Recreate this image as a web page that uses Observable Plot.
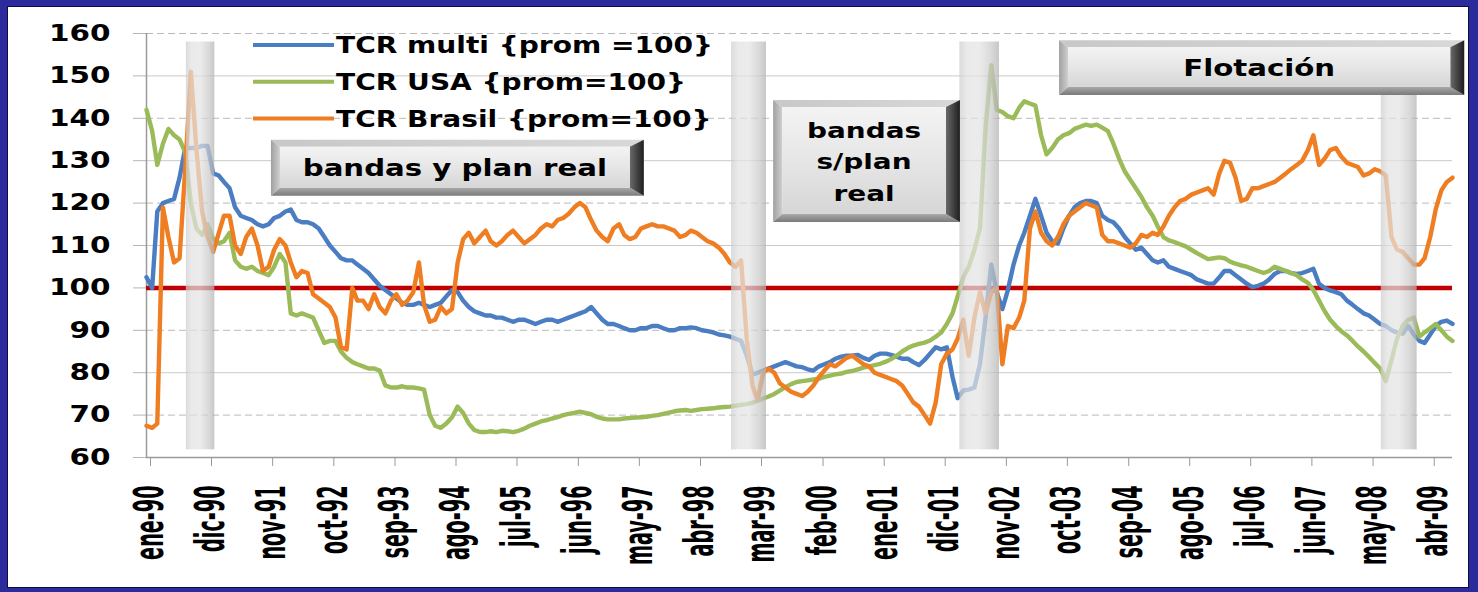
<!DOCTYPE html>
<html><head><meta charset="utf-8">
<script src="https://cdn.jsdelivr.net/npm/d3@7"></script>
<script src="https://cdn.jsdelivr.net/npm/@observablehq/plot@0.6"></script>
<style>
html,body{margin:0;padding:0;background:#2b2b9d;width:1478px;height:592px;overflow:hidden;}
#frame{position:absolute;left:8px;top:7px;width:1460px;height:580px;background:#fff;box-shadow:0 0 0 1px #0d0d40;}
svg text{font-family:"DejaVu Sans",sans-serif;}
</style></head><body><div id="frame"></div>
<script>
// ---------- data ----------
const monthNames = ["ene","feb","mar","abr","may","jun","jul","ago","sep","oct","nov","dic"];
const startYear = 1990; // first month: ene-90, monthly series
const tickLabels = ["ene-90","dic-90","nov-91","oct-92","sep-93","ago-94","jul-95","jun-96","may-97","abr-98","mar-99","feb-00","ene-01","dic-01","nov-02","oct-03","sep-04","ago-05","jul-06","jun-07","may-08","abr-09"];
const yTicks = [60,70,80,90,100,110,120,130,140,150,160];
const seriesNames = ["TCR multi {prom =100}","TCR USA {prom=100}","TCR Brasil {prom=100}"];
const tcrMulti = [
102.5,100,118,120,120.5,121,126,133,133,133,
133.5,133.5,127,126.5,125,123.5,119,117,116.5,116,
115,114.5,115,116.5,117,118,118.5,116,115.5,115.5,
115,114,112,110,108.5,107,106.5,106.5,105.5,104.5,
103.5,102,100.5,99.5,98.5,97.5,96.5,96,96,96.5,
96,95.5,96,96.5,98,99.5,99,97,95.5,94.5,
94,93.5,93.5,93,93,92.5,92,92.5,92.5,92,
91.5,92,92.5,92.5,92,92.5,93,93.5,94,94.5,
95.5,94,92.5,91.5,91.5,91,90.5,90,90,90.5,
90.5,91,91,90.5,90,90,90.5,90.5,90.7,90.5,
90,89.8,89.5,89,88.8,88.5,88,87.5,84,79.5,
80,80.5,81,81.5,82,82.5,82,81.5,81.3,80.8,
80.5,81.5,82,82.5,83.3,83.8,84,84,84.2,83.5,
83,84,84.5,84.5,84.2,83.8,83.3,83.3,82.5,81.8,
83,84.5,86,85.5,86,79,74,75.8,76,76.5,
82,93,105.5,99,95,99.5,105.5,110,113,117,
121,117,113,111,110.5,114,117,119,120,120.5,
120.5,120,117,116,115.5,114,112,110.5,109,109.5,
108,106.5,106,106.5,105,104.5,104,103.5,103,102,
101.5,101,101,102.5,104,104,103,102,101,100.2,
100.5,101,102,103.3,104,104,103.5,103.3,103.5,104,
104.5,101,100,99.4,99,98.5,97,96,95,94,
93.5,92.5,91.5,91,90,89.5,89.2,91,89,87.5,
87,89,91,92,92.3,91.5];
const tcrUSA = [
142,137,129,134,137.5,136,135,132,120,114,
112.5,115,111.5,110.5,111,113,106.5,105,104.5,105,
104,103.5,103,105,108,106,94,93.5,94,93.5,
93,90,87,87.5,87.5,85,83.5,82.5,82,81.5,
81,81,80.5,77,76.5,76.5,76.8,76.5,76.5,76.3,
76,70,67.5,67,68,69.5,72,70.5,68,66.5,
66,66,66.2,66,66.3,66.2,66,66.3,66.8,67.5,
68,68.5,68.8,69.2,69.5,70,70.3,70.5,70.8,70.5,
70.2,69.6,69.2,69,69,69,69.2,69.3,69.4,69.5,
69.6,69.8,70,70.3,70.6,70.9,71.1,71.2,71,71.2,
71.4,71.5,71.6,71.8,71.9,72,72.2,72.4,72.6,72.9,
73.4,73.9,74.4,75,75.8,76.6,77.3,77.8,78,78.2,
78.4,78.6,79,79.3,79.6,79.8,80.2,80.4,80.8,81.2,
81.5,81.8,82.1,82.6,83.2,84,85,85.8,86.4,86.8,
87.1,87.6,88.5,89.5,91.5,94,98,102.5,105,109,
114,138,152.5,142,141.5,140.5,140,142.5,144,143.5,
143,136,131.5,133,135,136,136.5,137.5,138,138.5,
138.2,138.5,137.8,137,134,130.5,127.5,125.5,123.5,121.5,
119,117,114.5,112,111.2,110.8,110.3,109.8,109,108.2,
107.5,106.8,107,107.2,107,106.2,105.7,105.3,105,104.5,
104,103.5,104,105,104.5,104,103.5,103,102,101.2,
99.5,97,94.5,92.5,91,89.8,88.8,87.5,86.2,85,
83.7,82.3,81,78,83,88,91,92.5,93,88.5,
89.5,90.5,91.5,90,88.5,87.5];
const tcrBrasil = [
67.5,67,68,119,112,106,107,128,151,133,
118,112,108.5,113,117,117,110,108,112,114,
110,104,105,109,111.5,110,106,102.5,104,103.5,
98.5,97.5,96.5,95.5,93,86,85.5,100,97,97,
95,98.5,95.5,94,97,98.5,96,97,99,106,
96,92,92.5,95.5,94,95,106,111.5,113,110.5,
112,113.5,111,110,111,112.5,113.5,112,110.5,111.5,
112.5,114,115,114.5,116,116.5,117.5,119,120,119,
116,113.5,112,111,114,115,112.5,111.5,112,114,
114.5,115,114.5,114.5,114,113.5,112,112.5,113.5,113,
112,111,110.5,109.5,108,106,105,106.5,88,77,
73.5,80,81,80,77.5,76.5,75.5,75,74.5,75.5,
77,79,80.5,82,81.5,82.5,83.5,84,83,82,
81.5,80,79.5,79,78.5,78,77,75,73,72,
70,68,73,82,84.5,85.5,88,92.5,84,93,
99,94,99,100,82,91,90.5,93,97,114,
118,113,111,110,112,115,117,118,119,120,
119.5,119,112.5,111,111,110.5,110,109.5,110.5,112.5,
112,113,112.5,114.5,117,119,120.5,121,122,122.5,
123,123.5,122,127,130,129.5,126,120.5,121,123.5,
123.5,124,124.5,125,126,127,128,129,130,132.5,
136,129,130.5,132.5,133,131,129.5,129,128.5,126.5,
127,128,127.5,126.5,112,109,108.5,107,105.5,105.5,
107,112,118.5,123,125,126];
const seriesColors = ["#4a7dc2","#9bbb59","#ef7d21"];

// ---------- helpers ----------
const monthDate = i => {
  const f = Math.floor(i);
  return new Date(Date.UTC(startYear, f, 1) + (i - f) * 30.44 * 864e5);
};
const parseLabel = l => {
  const [m, yy] = l.split("-");
  const y = +yy < 50 ? 2000 + +yy : 1900 + +yy;
  return new Date(Date.UTC(y, monthNames.indexOf(m), 1));
};
const fmt = d => monthNames[d.getUTCMonth()] + "-" + String(d.getUTCFullYear() % 100).padStart(2, "0");
const tickDates = tickLabels.map(parseLabel);

const allSeries = [tcrMulti, tcrUSA, tcrBrasil];
const rows = [];
allSeries.forEach((vals, s) => vals.forEach((v, i) => rows.push({date: monthDate(i), value: v, series: seriesNames[s]})));

// shaded periods (month index from ene-90) and annotation boxes
const bands = [
  {from: 7.2, to: 12.3, top: 158, bottom: 61.8},
  {from: 105.3, to: 111.6, top: 158, bottom: 61.8},
  {from: 146.4, to: 153.5, top: 158, bottom: 61.8},
  {from: 222.2, to: 228.6, top: 145.6, bottom: 61.8}
].map(b => ({x1: monthDate(b.from), x2: monthDate(b.to), y1: b.bottom, y2: b.top}));

const boxes = [
  {from: 22.5, to: 89.6, top: 134.8, bottom: 121.6, lines: ["bandas y plan real"]},
  {from: 112.9, to: 146.5, top: 144.2, bottom: 115.4, lines: ["bandas", "s/plan", "real"]},
  {from: 164.3, to: 237.2, top: 158.3, bottom: 145.4, lines: ["Flotación"]}
];

const gridSolid = [80,110,130,150];
const gridDashed = [70,90,120,140,160];

const plot = Plot.plot({
  width: 1460, height: 580,
  marginLeft: 138, marginTop: 26, marginRight: 16, marginBottom: 130,
  style: {background: "white", fontFamily: "DejaVu Sans"},
  x: {type: "utc", domain: [monthDate(0), monthDate(235)]},
  y: {domain: [60, 160]},
  color: {domain: seriesNames, range: seriesColors},
  marks: [
    Plot.ruleY(gridSolid, {stroke: "#c9c9c9", strokeWidth: 1}),
    Plot.ruleY(gridDashed, {stroke: "#b9b9b9", strokeWidth: 1, strokeDasharray: "7,4"}),
    Plot.axisY({ticks: yTicks, tickSize: 13, tickPadding: 23, stroke: "#b5b5b5", fill: "#000",
      fontSize: 23, fontWeight: "bold", label: null}),
    Plot.axisX({ticks: tickDates, tickFormat: fmt, tickRotate: -90, tickSize: 9, tickPadding: 19,
      stroke: "#999", fill: "#000", fontSize: 40, fontWeight: "bold", label: null, dx: 4}),
    Plot.ruleX([monthDate(0)], {y1: 60, y2: 160, stroke: "#9a9a9a", strokeWidth: 1.5}),
    Plot.ruleY([60], {stroke: "#9a9a9a", strokeWidth: 1.5}),
    Plot.ruleY([100], {stroke: "#c00000", strokeWidth: 4.5}),
    Plot.lineY(rows, {x: "date", y: "value", z: "series", stroke: "series", strokeWidth: 4.4,
      strokeLinejoin: "round", strokeLinecap: "round"}),
    Plot.rect(bands, {x1: "x1", x2: "x2", y1: "y1", y2: "y2", fill: "url(#bandGrad)", fillOpacity: 0.72})
  ]
});

document.getElementById("frame").appendChild(plot);
const svg = d3.select(plot);
const sx = plot.scale("x"), sy = plot.scale("y");

// gradients
const defs = svg.insert("defs", ":first-child");
const grad = (id, vertical, stops) => {
  const g = defs.append("linearGradient").attr("id", id)
    .attr("x1", 0).attr("y1", 0).attr("x2", vertical ? 0 : 1).attr("y2", vertical ? 1 : 0);
  stops.forEach(([o, c]) => g.append("stop").attr("offset", o).attr("stop-color", c));
};
grad("bandGrad", false, [[0, "#cdcdcd"], [0.2, "#e2e2e2"], [0.5, "#e4e4e4"], [0.8, "#cbcbcb"], [1, "#b2b2b2"]]);
grad("faceGrad", true, [[0, "#f3f3f3"], [0.5, "#e6e6e6"], [1, "#d6d6d6"]]);
grad("topBev", false, [[0, "#c8c8c8"], [1, "#d8d8d8"]]);
grad("rightBev", false, [[0, "#6a6a6a"], [1, "#1e1e1e"]]);
grad("leftBev", false, [[0, "#a0a0a0"], [1, "#cfcfcf"]]);
grad("botBev", true, [[0, "#a8a8a8"], [1, "#7a7a7a"]]);

// annotation boxes (bevelled buttons)
const stretchEls = [];
const gBoxes = svg.append("g");
boxes.forEach(b => {
  const L = sx.apply(monthDate(b.from)), R = sx.apply(monthDate(b.to));
  const T = sy.apply(b.top), B = sy.apply(b.bottom);
  const bl = 9, bt = 7, br = 14, bb = 8;
  const g = gBoxes.append("g");
  const poly = (pts, fill) => g.append("polygon").attr("points", pts.map(p => p.join(",")).join(" ")).attr("fill", fill);
  poly([[L, T], [R, T], [R - br, T + bt], [L + bl, T + bt]], "url(#topBev)");
  poly([[L, T], [L + bl, T + bt], [L + bl, B - bb], [L, B]], "url(#leftBev)");
  poly([[L, B], [R, B], [R - br, B - bb], [L + bl, B - bb]], "url(#botBev)");
  poly([[R, T], [R, B], [R - br, B - bb], [R - br, T + bt]], "url(#rightBev)");
  g.append("rect").attr("x", L + bl).attr("y", T + bt).attr("width", R - br - L - bl).attr("height", B - bb - T - bt)
    .attr("fill", "url(#faceGrad)");
  const cx = (L + bl + R - br) / 2, cy = (T + bt + B - bb) / 2;
  const lh = 31.5;
  b.lines.forEach((t, k) => {
    const y = cy + (k - (b.lines.length - 1) / 2) * lh;
    const el = g.append("text").attr("x", cx).attr("y", y + 1).attr("text-anchor", "middle")
      .attr("dominant-baseline", "central").attr("font-size", b.lines.length > 1 ? 22 : 23)
      .attr("font-weight", "bold").attr("fill", "#000").text(t);
    stretchEls.push([el.node(), 1.27]);
  });
});

// legend (inside plot, top-left)
const gLeg = svg.append("g");
seriesNames.forEach((name, k) => {
  const y = 38 + k * 36.8;
  gLeg.append("line").attr("x1", 245).attr("x2", 326).attr("y1", y).attr("y2", y)
    .attr("stroke", seriesColors[k]).attr("stroke-width", 4);
  const el = gLeg.append("text").attr("x", 328).attr("y", y).attr("text-anchor", "start")
    .attr("dominant-baseline", "central")
    .attr("font-size", 23).attr("font-weight", "bold").attr("fill", "#000").text(name);
  stretchEls.push([el.node(), 1.22]);
});

// horizontal stretch of text to match the reference's wide bold lettering
const stretch = (node, f) => {
  const L = node.getComputedTextLength();
  if (L > 0) { node.setAttribute("textLength", (L * f).toFixed(1)); node.setAttribute("lengthAdjust", "spacingAndGlyphs"); }
};
stretchEls.forEach(([n, f]) => stretch(n, f));
plot.querySelectorAll('g[aria-label="y-axis tick label"] text').forEach(n => stretch(n, 1.28));
plot.querySelectorAll('g[aria-label="x-axis tick label"] text').forEach(n => stretch(n, 0.48));
</script>
</body></html>
